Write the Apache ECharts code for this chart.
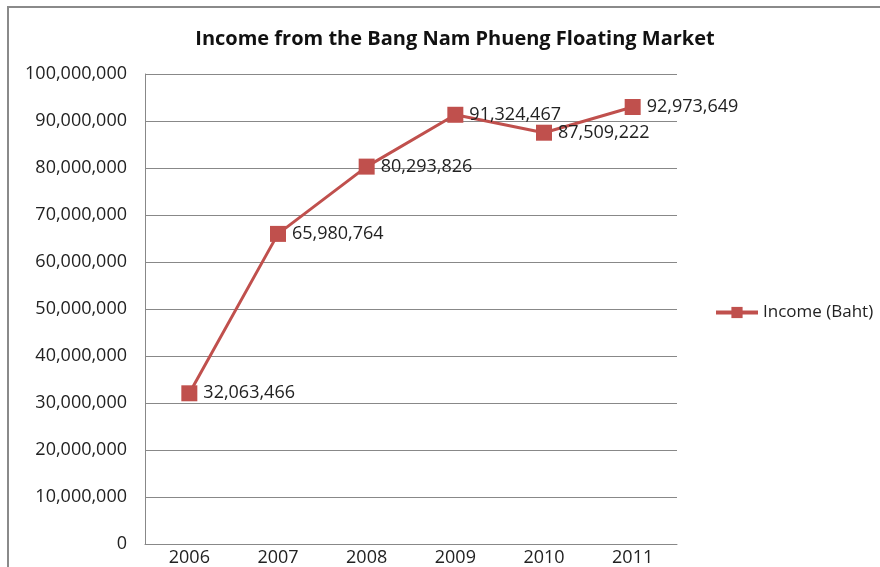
<!DOCTYPE html>
<html>
<head>
<meta charset="utf-8">
<script src="https://cdn.jsdelivr.net/npm/echarts@6/dist/echarts.min.js"></script>
<style>
  html, body { margin: 0; padding: 0; background: #fff; }
  #container { width: 880px; height: 567px; }
</style>
</head>
<body>
<div id="container"></div>
<script>
// years on the x axis
const years = ['2006', '2007', '2008', '2009', '2010', '2011'];
// income per year (Baht)
const income = [32063466, 65980764, 80293826, 91324467, 87509222, 92973649];

const fmt = v => Number(v).toLocaleString('en-US');

const dom = document.getElementById('container');
const myChart = echarts.init(dom);

const option = {
    backgroundColor: '#fff',
    animation: false,
    textStyle: { fontFamily: 'Open Sans, sans-serif' },
    title: {
        text: 'Income from the Bang Nam Phueng Floating Market',
        left: 450,
        textAlign: 'center',
        top: 24,
        textStyle: { fontSize: 20, fontWeight: 'bold', color: '#111', fontFamily: 'Open Sans' }
    },
    legend: {
        left: 709,
        top: 299,
        itemWidth: 42,
        itemHeight: 14,
        itemGap: 4,
        lineStyle: { width: 4 },
        textStyle: { fontSize: 17, color: '#222', fontFamily: 'Open Sans' },
        data: [{
            name: 'Income (Baht)',
            itemStyle: { color: '#c0504d' },
            lineStyle: { color: '#c0504d', width: 4 }
        }]
    },
    grid: { left: 145, top: 74, right: 203, bottom: 21, containLabel: false },
    xAxis: {
        type: 'category',
        data: years,
        boundaryGap: true,
        axisLine: { lineStyle: { color: '#888', width: 1 } },
        axisTick: { show: false },
        axisLabel: { fontSize: 18, color: '#222', margin: 5 }
    },
    yAxis: {
        type: 'value',
        min: 0,
        max: 100000000,
        interval: 10000000,
        axisLine: { show: true, lineStyle: { color: '#888', width: 1 } },
        axisTick: { show: false },
        splitLine: { lineStyle: { color: '#888', width: 1 } },
        axisLabel: { fontSize: 18, color: '#222', margin: 18, formatter: fmt }
    },
    graphic: [{
        type: 'polyline',
        shape: { points: [[8, 567], [8, 7], [880, 7]] },
        style: { stroke: '#8a8a8a', lineWidth: 2, fill: null }
    }],
    series: [{
        name: 'Income (Baht)',
        type: 'line',
        data: income,
        symbol: 'rect',
        symbolSize: 16,
        lineStyle: { color: '#c0504d', width: 3 },
        itemStyle: { color: '#c0504d' },
        label: {
            show: true,
            position: 'right',
            distance: 6,
            fontSize: 18,
            color: '#222',
            formatter: p => fmt(p.value)
        }
    }]
};

myChart.setOption(option);
</script>
</body>
</html>
